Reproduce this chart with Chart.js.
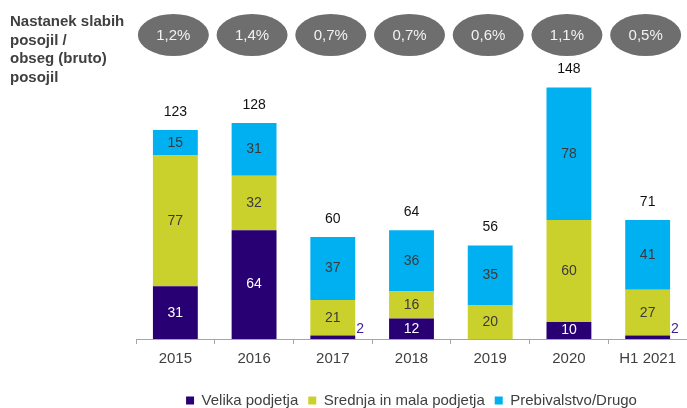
<!DOCTYPE html>
<html lang="sl">
<head>
    <meta charset="UTF-8">
    <title>Nastanek slabih posojil</title>
    <script src="https://cdn.jsdelivr.net/npm/chart.js"></script>
    <style>
        body { margin: 0; background: #fff; }
        #wrap { width: 687px; height: 408px; }
    </style>
</head>
<body>
<div id="wrap"><canvas id="nplChart"></canvas></div>
<script>
    // kategorije in vrednosti
    const labels = ['2015', '2016', '2017', '2018', '2019', '2020', 'H1 2021'];
    const velika = [31, 64, 2, 12, 0, 10, 2];
    const srednja = [77, 32, 21, 16, 20, 60, 27];
    const prebivalstvo = [15, 31, 37, 36, 35, 78, 41];
    const totals = [123, 128, 60, 64, 56, 148, 71];
    const ratios = ['1,2%', '1,4%', '0,7%', '0,7%', '0,6%', '1,1%', '0,5%'];

    const FONT = '"Liberation Sans", Arial, sans-serif';

    // napisi v stolpcih, vsote nad stolpci in sivi krogi zgoraj
    const annotations = {
        id: 'annotations',
        afterDatasetsDraw(chart) {
            const ctx = chart.ctx;
            ctx.save();
            ctx.textAlign = 'center';
            ctx.textBaseline = 'middle';
            ctx.font = '14px ' + FONT;
            chart.data.datasets.forEach((ds, di) => {
                const meta = chart.getDatasetMeta(di);
                meta.data.forEach((bar, i) => {
                    const v = ds.data[i];
                    if (!v) return;
                    if (v < 5) {
                        // premajhen segment - napis desno ob stolpcu
                        ctx.fillStyle = '#3b1f9a';
                        ctx.textAlign = 'left';
                        ctx.fillText(v, bar.x + bar.width / 2 + 1, bar.y - 6);
                        ctx.textAlign = 'center';
                        return;
                    }
                    ctx.fillStyle = di === 0 ? '#ffffff' : '#3a3a3a';
                    ctx.fillText(v, bar.x, (bar.y + bar.base) / 2);
                });
            });
            // vsote
            const top = chart.getDatasetMeta(2).data;
            ctx.fillStyle = '#111';
            ctx.font = '14px ' + FONT;
            totals.forEach((t, i) => {
                ctx.fillText(t, top[i].x, top[i].y - 18);
            });
            // krogi
            const x = chart.scales.x;
            ratios.forEach((r, i) => {
                const cx = x.getPixelForValue(i) - 2;
                ctx.beginPath();
                ctx.ellipse(cx, 35, 35.5, 21, 0, 0, Math.PI * 2);
                ctx.fillStyle = '#6e6e6e';
                ctx.fill();
                ctx.fillStyle = '#f2f2f2';
                ctx.font = '15px ' + FONT;
                ctx.fillText(r, cx, 36);
            });
            // naslov levo
            ctx.textAlign = 'left';
            ctx.fillStyle = '#404040';
            ctx.font = 'bold 15px ' + FONT;
            ['Nastanek slabih', 'posojil /', 'obseg (bruto)', 'posojil'].forEach((line, i) => {
                ctx.fillText(line, 10, 22 + i * 18.5);
            });
            ctx.restore();
        }
    };

    const ctx = document.getElementById('nplChart').getContext('2d');
    new Chart(ctx, {
        type: 'bar',
        data: {
            labels: labels,
            datasets: [
                {
                    label: 'Velika podjetja',
                    data: velika,
                    backgroundColor: '#290073',
                    borderWidth: 0
                },
                {
                    label: 'Srednja in mala podjetja',
                    data: srednja,
                    backgroundColor: '#cbd12c',
                    borderWidth: 0
                },
                {
                    label: 'Prebivalstvo/Drugo',
                    data: prebivalstvo,
                    backgroundColor: '#00b0f0',
                    borderWidth: 0
                }
            ]
        },
        options: {
            responsive: true,
            maintainAspectRatio: false,
            animation: false,
            categoryPercentage: 1,
            barPercentage: 0.57,
            layout: {
                padding: { left: 136, right: 0, top: 67, bottom: -10 }
            },
            plugins: {
                legend: {
                    position: 'bottom',
                    labels: {
                        boxWidth: 8,
                        boxHeight: 8,
                        padding: 10,
                        color: '#404040',
                        font: { family: FONT, size: 15 }
                    }
                },
                tooltip: { enabled: false }
            },
            scales: {
                x: {
                    stacked: true,
                    afterFit(scale) {
                        scale.height = 44;
                    },
                    grid: {
                        display: true,
                        drawOnChartArea: false,
                        drawTicks: true,
                        tickLength: 5,
                        color: '#a6a6a6'
                    },
                    border: { display: true, color: '#a6a6a6' },
                    ticks: {
                        color: '#404040',
                        padding: 6,
                        font: { family: FONT, size: 15 }
                    }
                },
                y: {
                    stacked: true,
                    display: false,
                    min: 0,
                    max: 160
                }
            }
        },
        plugins: [annotations]
    });
</script>
</body>
</html>
